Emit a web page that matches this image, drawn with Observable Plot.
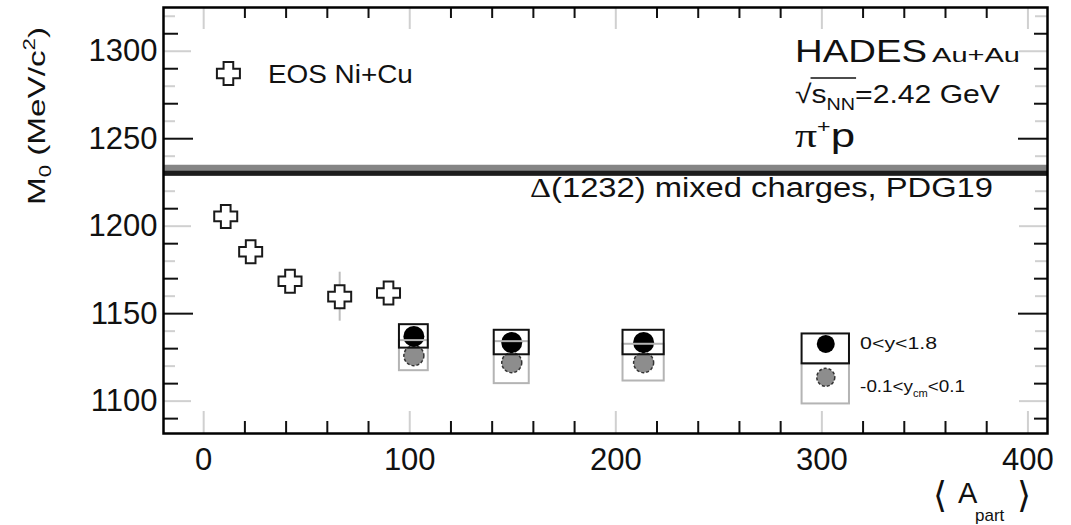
<!DOCTYPE html>
<html>
<head>
<meta charset="utf-8">
<script src="https://cdn.jsdelivr.net/npm/d3@7"></script>
<script src="https://cdn.jsdelivr.net/npm/@observablehq/plot@0.6"></script>
<style>
  html, body { margin: 0; padding: 0; background: #fff; }
  #chart svg { display: block; }
</style>
</head>
<body>
<div id="chart"></div>
<script>
// EOS Ni+Cu: pole mass of the pi+ p system vs <A_part>
const eosApart = [10.7, 22.8, 41.9, 66.0, 89.7];
const eosM0    = [1205.6, 1185.4, 1168.5, 1159.7, 1161.8];
const eosErr   = [3, 3, 3, 14, 3];

// HADES Au+Au, sqrt(s_NN) = 2.42 GeV
const hadesApart    = [102, 149.5, 213.5];
const hadesApartSys = [7, 8.5, 10];
const m0Full        = [1137.0, 1133.5, 1133.5];   // 0<y<1.8
const m0FullSys     = [6.7, 7.0, 7.0];
const m0Mid         = [1126.0, 1122.0, 1122.0];   // -0.1<y_cm<0.1
const m0MidSys      = [8.6, 12.0, 10.5];

// PDG Delta(1232) mass
const pdgDelta = 1232;

// tick labels
const yLabels = [1100, 1150, 1200, 1250, 1300];
const xLabels = [0, 100, 200, 300, 400];

// tick marks of the frame (dark set and faint set)
const yTicksMajor = [1150, 1250];
const yTicksMinor = [1090, 1110, 1130, 1170, 1190, 1210, 1230, 1270, 1290, 1310];
const yTicksShadeMajor = [1100, 1200, 1300];
const yTicksShadeMinor = [1120, 1140, 1160, 1180, 1220, 1240, 1260, 1280, 1320];
const xTicksDark  = [20, 40, 60, 80, 120, 140, 160, 180, 220, 240, 260, 280, 320, 340, 360, 380];
const xTicksShade = [0, 100, 200, 300, 400];

const W = 1071, H = 525;
const margin = {top: 7, right: 24, bottom: 92, left: 163};
const innerW = W - margin.left - margin.right;
const innerH = H - margin.top - margin.bottom;
const FONT = '"Liberation Sans", Arial, Helvetica, sans-serif';
const SERIF = '"Liberation Serif", "Times New Roman", serif';

const dark = "#111", shade = "#d0d0d0";

// open cross marker (outline of a plus sign)
const openCross = {
  draw(ctx, size) {
    const R = Math.sqrt(size / Math.PI);
    const t = 0.42 * R;
    ctx.moveTo(-t, -R); ctx.lineTo(t, -R); ctx.lineTo(t, -t); ctx.lineTo(R, -t);
    ctx.lineTo(R, t); ctx.lineTo(t, t); ctx.lineTo(t, R); ctx.lineTo(-t, R);
    ctx.lineTo(-t, t); ctx.lineTo(-R, t); ctx.lineTo(-R, -t); ctx.lineTo(-t, -t);
    ctx.closePath();
  }
};

const eosIdx = d3.range(eosApart.length);
const hIdx = d3.range(hadesApart.length);

// legend placement (data units)
const legX = [290.4, 313.4], legXc = 301.9;
const legFullY = [1121.3, 1138.4], legMidY = [1098.4, 1121.3];
const legFullDot = 1132.7, legMidDot = 1113.6;

const tickLines = (ticks, len, color, side) => {
  if (side === "bottom") return Plot.tickX(ticks, {x: d => d, insetTop: innerH - len, stroke: color, strokeWidth: 2});
  if (side === "top") return Plot.tickX(ticks, {x: d => d, insetBottom: innerH - len, stroke: color, strokeWidth: 2});
  if (side === "left") return Plot.tickY(ticks, {y: d => d, insetRight: innerW - len, stroke: color, strokeWidth: 2});
  return Plot.tickY(ticks, {y: d => d, insetLeft: innerW - len, stroke: color, strokeWidth: 2});
};

const plot = Plot.plot({
  width: W, height: H,
  marginTop: margin.top, marginRight: margin.right, marginBottom: margin.bottom, marginLeft: margin.left,
  style: {fontFamily: FONT, fontSize: "31px", color: "#111", background: "#fff"},
  x: {domain: [-19.5, 409.5], label: null},
  y: {domain: [1081.5, 1325], label: null},
  marks: [
    // faint ticks
    tickLines(xTicksShade, 22, shade, "bottom"),
    tickLines(xTicksShade, 22, shade, "top"),
    tickLines(yTicksShadeMajor, 28, shade, "left"),
    tickLines(yTicksShadeMinor, 12, shade, "left"),
    tickLines(yTicksShadeMajor, 28, shade, "right"),
    tickLines(yTicksShadeMinor, 12, shade, "right"),
    // dark ticks
    tickLines(xTicksDark, 12, dark, "bottom"),
    tickLines(xTicksDark, 11, dark, "top"),
    tickLines(yTicksMajor, 30, dark, "left"),
    tickLines(yTicksMinor, 15, dark, "left"),
    tickLines(yTicksMajor, 29, dark, "right"),
    tickLines(yTicksMinor, 13, dark, "right"),

    // PDG Delta(1232) band
    Plot.ruleY([pdgDelta], {stroke: "#858585", strokeWidth: 11}),
    Plot.ruleY([pdgDelta], {stroke: "#1c1c1c", strokeWidth: 5, dy: 3}),

    // EOS Ni+Cu
    Plot.ruleX(eosIdx, {x: i => eosApart[i], y1: i => eosM0[i] - eosErr[i], y2: i => eosM0[i] + eosErr[i], stroke: "#bdbdbd", strokeWidth: 2}),
    Plot.dot(eosIdx, {x: i => eosApart[i], y: i => eosM0[i], symbol: openCross, r: 11.5, fill: "#fff", stroke: "#1a1a1a", strokeWidth: 2}),

    // HADES points
    Plot.dot(hIdx, {x: i => hadesApart[i], y: i => m0Mid[i], r: 10, fill: "#8d8d8d", stroke: "#333", strokeWidth: 1.5, strokeDasharray: "3,2"}),
    Plot.dot(hIdx, {x: i => hadesApart[i], y: i => m0Full[i], r: 10.5, fill: "#000"}),
    // systematic boxes
    Plot.rect(hIdx, {x1: i => hadesApart[i] - hadesApartSys[i], x2: i => hadesApart[i] + hadesApartSys[i],
                     y1: i => m0Mid[i] - m0MidSys[i], y2: i => m0Mid[i] + m0MidSys[i],
                     fill: "none", stroke: "#b4b4b4", strokeWidth: 2}),
    Plot.rect(hIdx, {x1: i => hadesApart[i] - hadesApartSys[i], x2: i => hadesApart[i] + hadesApartSys[i],
                     y1: i => m0Full[i] - m0FullSys[i], y2: i => m0Full[i] + m0FullSys[i],
                     fill: "none", stroke: "#111", strokeWidth: 2}),

    // legend symbols
    Plot.dot([12.0], {x: d => d, y: () => 1287.3, symbol: openCross, r: 11.5, fill: "#fff", stroke: "#1a1a1a", strokeWidth: 2}),
    Plot.rect([0], {x1: () => legX[0], x2: () => legX[1], y1: () => legMidY[0], y2: () => legMidY[1], fill: "none", stroke: "#b4b4b4", strokeWidth: 2}),
    Plot.rect([0], {x1: () => legX[0], x2: () => legX[1], y1: () => legFullY[0], y2: () => legFullY[1], fill: "none", stroke: "#111", strokeWidth: 2}),
    Plot.dot([0], {x: () => legXc, y: () => legMidDot, r: 9, fill: "#8d8d8d", stroke: "#333", strokeWidth: 1.5, strokeDasharray: "3,2"}),
    Plot.dot([0], {x: () => legXc, y: () => legFullDot, r: 9, fill: "#000"}),

    // axes labels
    Plot.axisY(yLabels, {anchor: "left", tickSize: 0, tickPadding: 6, fontSize: 31, label: null, tickFormat: d => String(d)}),
    Plot.axisX(xLabels, {anchor: "bottom", tickSize: 0, tickPadding: 14, fontSize: 31, label: null, tickFormat: d => String(d)}),

    Plot.frame({stroke: "#000", strokeWidth: 2.5})
  ]
});

document.getElementById("chart").appendChild(plot);

// annotations with sub/superscripts, placed through the plot's scales
const sxd = plot.scale("x"), syd = plot.scale("y");
const xs = d3.scaleLinear(sxd.domain, sxd.range);
const ys = d3.scaleLinear(syd.domain, syd.range);
const svg = d3.select(plot);

function addText({x, y, size, family = FONT, rotate = 0, width, parts}) {
  const t = svg.append("text")
    .attr("transform", `translate(${x},${y})` + (rotate ? ` rotate(${rotate})` : ""))
    .attr("text-anchor", "start")
    .attr("font-size", size)
    .attr("font-family", family)
    .attr("fill", "#111");
  let shift = 0;
  for (const p of parts) {
    const s = t.append("tspan").text(p.text);
    if (p.size) s.attr("font-size", p.size);
    if (p.family) s.attr("font-family", p.family);
    const target = p.shift || 0;
    if (target !== shift) s.attr("dy", target - shift);
    shift = target;
    if (p.dx) s.attr("dx", p.dx);
  }
  if (width) t.attr("textLength", width).attr("lengthAdjust", "spacingAndGlyphs");
  return t;
}

// legend text for EOS
addText({x: xs(31.4), y: ys(1281.6), size: 26, width: 145, parts: [{text: "EOS Ni+Cu"}]});

// experiment / system
addText({x: xs(287.2), y: ys(1293.6), size: 32, width: 132, parts: [{text: "HADES"}]});
addText({x: xs(353.7), y: ys(1293.6), size: 21, width: 88, parts: [{text: "Au+Au"}]});

const energy = addText({x: xs(287.2), y: ys(1270.1), size: 26, width: 205, parts: [
  {text: "√"}, {text: "s"}, {text: "NN", size: 17, shift: 7}, {text: "=2.42 GeV"}
]});
{
  const node = energy.node();
  const x0 = node.getStartPositionOfChar(1).x, x1 = node.getEndPositionOfChar(3).x;
  svg.append("line")
    .attr("transform", `translate(${xs(287.2)},${ys(1270.1)})`)
    .attr("x1", x0 - 1).attr("x2", x1 + 1).attr("y1", -25).attr("y2", -25)
    .attr("stroke", "#111").attr("stroke-width", 1.5);
}

addText({x: xs(287.2), y: ys(1245), size: 34, width: 60, parts: [
  {text: "π", family: SERIF}, {text: "+", size: 18, shift: -14}, {text: "p"}
]});

addText({x: xs(158.6), y: ys(1216.4), size: 27, width: 463, parts: [
  {text: "Δ", family: SERIF}, {text: "(1232) mixed charges, PDG19"}
]});

// HADES legend texts
addText({x: xs(318.8), y: ys(1129.5), size: 17, width: 77, parts: [{text: "0<y<1.8"}]});
addText({x: xs(318.8), y: ys(1105.2), size: 17, width: 105, parts: [
  {text: "-0.1<y"}, {text: "cm", size: 10, shift: 5}, {text: "<0.1"}
]});

// axis titles
addText({x: 45, y: 205, rotate: -90, size: 24, width: 178, parts: [
  {text: "M"}, {text: "0", size: 16, shift: 6}, {text: " (MeV/c"}, {text: "2", size: 16, shift: -10}, {text: ")"}
]});
addText({x: W - 138, y: 507, size: 36, family: '"DejaVu Sans", sans-serif', parts: [{text: "⟨"}]});
addText({x: W - 113, y: 503, size: 29, parts: [{text: "A"}]});
addText({x: W - 96, y: 521, size: 17, parts: [{text: "part"}]});
addText({x: W - 54, y: 507, size: 36, family: '"DejaVu Sans", sans-serif', parts: [{text: "⟩"}]});
</script>
</body>
</html>
